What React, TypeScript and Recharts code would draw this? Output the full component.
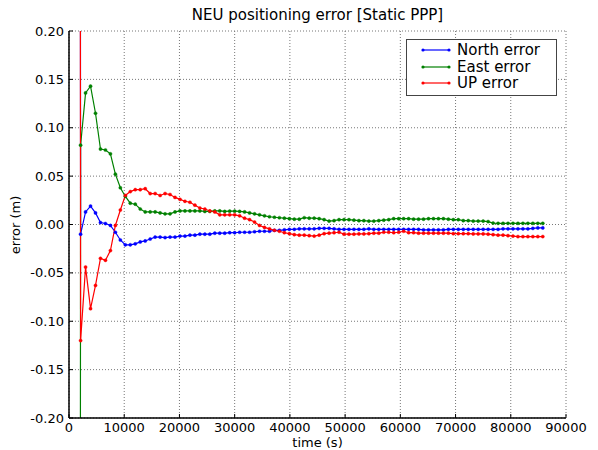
import { LineChart, Line, XAxis, YAxis, CartesianGrid, Legend } from 'recharts';

// sample times (s); first epoch is off-scale (convergence start)
const TIME = [
  1500,
  2100, 3000, 3900, 4800, 5700, 6600, 7500, 8400, 9300, 10200,
  11100, 12000, 12900, 13800, 14700, 15600, 16500, 17400, 18300, 19200,
  20100, 21000, 21900, 22800, 23700, 24600, 25500, 26400, 27300, 28200,
  29100, 30000, 30900, 31800, 32700, 33600, 34500, 35400, 36300, 37200,
  38100, 39000, 39900, 40800, 41700, 42600, 43500, 44400, 45300, 46200,
  47100, 48000, 48900, 49800, 50700, 51600, 52500, 53400, 54300, 55200,
  56100, 57000, 57900, 58800, 59700, 60600, 61500, 62400, 63300, 64200,
  65100, 66000, 66900, 67800, 68700, 69600, 70500, 71400, 72300, 73200,
  74100, 75000, 75900, 76800, 77700, 78600, 79500, 80400, 81300, 82200,
  83100, 84000, 84900, 85800,
];

const NORTH = [
  5,
  -0.010, 0.013, 0.019, 0.012, 0.002, 0.001, -0.001, -0.008, -0.016, -0.021,
  -0.021, -0.020, -0.018, -0.017, -0.015, -0.013, -0.013, -0.0135, -0.013, -0.013,
  -0.012, -0.012, -0.011, -0.011, -0.010, -0.010, -0.010, -0.009, -0.009, -0.009,
  -0.0085, -0.0085, -0.008, -0.008, -0.008, -0.0075, -0.007, -0.007, -0.007, -0.006,
  -0.006, -0.0055, -0.005, -0.005, -0.0045, -0.0045, -0.0045, -0.0045, -0.004, -0.004,
  -0.004, -0.0045, -0.005, -0.005, -0.005, -0.005, -0.005, -0.005, -0.0045, -0.005,
  -0.005, -0.005, -0.005, -0.005, -0.005, -0.005, -0.005, -0.005, -0.005, -0.0055,
  -0.0055, -0.0055, -0.0055, -0.0055, -0.005, -0.005, -0.005, -0.005, -0.005, -0.005,
  -0.005, -0.005, -0.005, -0.005, -0.005, -0.0045, -0.0045, -0.0045, -0.0045, -0.0045,
  -0.0045, -0.004, -0.0035, -0.0035,
];

const EAST = [
  -5,
  0.082, 0.136, 0.143, 0.115, 0.078, 0.077, 0.073, 0.052, 0.038, 0.029,
  0.022, 0.021, 0.016, 0.013, 0.013, 0.013, 0.012, 0.011, 0.011, 0.013,
  0.014, 0.014, 0.014, 0.014, 0.014, 0.0135, 0.0135, 0.014, 0.014, 0.0135,
  0.0138, 0.0138, 0.0135, 0.013, 0.012, 0.011, 0.010, 0.009, 0.008, 0.0075,
  0.007, 0.0065, 0.006, 0.0055, 0.0055, 0.007, 0.0065, 0.0065, 0.006, 0.005,
  0.0035, 0.004, 0.005, 0.005, 0.005, 0.0045, 0.004, 0.004, 0.0035, 0.0035,
  0.004, 0.0045, 0.005, 0.006, 0.006, 0.006, 0.006, 0.0055, 0.0055, 0.0055,
  0.006, 0.006, 0.006, 0.006, 0.0055, 0.005, 0.005, 0.004, 0.004, 0.0035,
  0.0035, 0.0035, 0.003, 0.0015, 0.0012, 0.0012, 0.0012, 0.0012, 0.0012, 0.0012,
  0.0012, 0.0012, 0.0012, 0.0012,
];

const UP = [
  5,
  -0.120, -0.044, -0.087, -0.063, -0.035, -0.037, -0.027, -0.001, 0.015, 0.030,
  0.034, 0.036, 0.036, 0.037, 0.032, 0.032, 0.030, 0.032, 0.031, 0.028,
  0.026, 0.024, 0.023, 0.020, 0.017, 0.016, 0.014, 0.013, 0.010, 0.010,
  0.010, 0.010, 0.009, 0.0065, 0.005, 0.0025, -0.001, -0.003, -0.0045, -0.006,
  -0.007, -0.0085, -0.0095, -0.0105, -0.011, -0.011, -0.0115, -0.012, -0.011, -0.0095,
  -0.009, -0.0085, -0.008, -0.010, -0.010, -0.010, -0.0097, -0.0097, -0.0095, -0.009,
  -0.009, -0.008, -0.008, -0.0085, -0.008, -0.007, -0.0085, -0.0085, -0.009, -0.009,
  -0.009, -0.009, -0.009, -0.009, -0.009, -0.0095, -0.0095, -0.0095, -0.0095, -0.0097,
  -0.0097, -0.0097, -0.010, -0.0105, -0.011, -0.011, -0.0115, -0.012, -0.0125, -0.0125,
  -0.0125, -0.0125, -0.0125, -0.0125,
];

const X_TICKS = [0, 10000, 20000, 30000, 40000, 50000, 60000, 70000, 80000, 90000];
const Y_TICKS = [-0.2, -0.15, -0.1, -0.05, 0, 0.05, 0.1, 0.15, 0.2];

const SERIES = [
  { key: 'north', name: 'North error', color: '#0000ff' },
  { key: 'east', name: 'East error', color: '#008000' },
  { key: 'up', name: 'UP error', color: '#ff0000' },
];

const data = TIME.map((t, i) => ({ t, north: NORTH[i], east: EAST[i], up: UP[i] }));

const FONT = '"DejaVu Sans", Verdana, sans-serif';
const tickStyle = { fill: '#000', fontSize: 13, fontFamily: FONT };
const blank = () => '';

const renderLegend = () => (
  <div
    style={{
      width: 149,
      height: 53,
      border: '1px solid #444',
      background: '#fff',
      fontFamily: FONT,
      fontSize: 15,
      color: '#000',
      boxSizing: 'content-box',
      paddingTop: 2,
    }}
  >
    {SERIES.map((s) => (
      <div key={s.key} style={{ display: 'flex', alignItems: 'center', height: 16.5, lineHeight: '16.5px' }}>
        <svg width={50} height={10} style={{ flex: 'none' }}>
          <line x1={16} y1={5} x2={42} y2={5} stroke={s.color} strokeWidth={1.2} />
          <circle cx={16} cy={5} r={1.6} fill={s.color} />
          <circle cx={42} cy={5} r={1.6} fill={s.color} />
        </svg>
        <span>{s.name}</span>
      </div>
    ))}
  </div>
);

export default function App() {
  return (
    <div style={{ position: 'absolute', left: 0, top: 0, width: 598, height: 450, background: '#fff', fontFamily: FONT }}>
      <div
        style={{
          position: 'absolute',
          left: 69,
          width: 497,
          top: 6,
          textAlign: 'center',
          fontSize: 15,
          lineHeight: '18px',
          color: '#000',
        }}
      >
        NEU positioning error [Static PPP]
      </div>
      <div
        style={{
          position: 'absolute',
          left: 15,
          top: 225,
          transform: 'translate(-50%, -50%) rotate(-90deg)',
          whiteSpace: 'nowrap',
          fontSize: 13,
          color: '#000',
        }}
      >
        error (m)
      </div>
      <LineChart width={598} height={450} data={data} margin={{ top: 31, right: 32, bottom: 2, left: 29 }}>
        <CartesianGrid stroke="#777" strokeDasharray="1 2" />
        <XAxis
          dataKey="t"
          type="number"
          domain={[0, 90000]}
          ticks={X_TICKS}
          interval={0}
          height={30}
          tickSize={-4}
          tickMargin={9}
          tick={tickStyle}
          stroke="#000"
          axisLine={{ stroke: '#000', strokeWidth: 1.5 }}
          tickLine={{ stroke: '#000' }}
          label={{ value: 'time (s)', position: 'insideBottom', offset: 1, fill: '#000', fontSize: 13, fontFamily: FONT }}
        />
        <XAxis
          xAxisId="top"
          orientation="top"
          type="number"
          domain={[0, 90000]}
          ticks={X_TICKS}
          interval={0}
          height={0}
          tickSize={-4}
          tickFormatter={blank}
          axisLine={{ stroke: '#000', strokeWidth: 1.5 }}
          tickLine={{ stroke: '#000' }}
        />
        <YAxis
          type="number"
          domain={[-0.2, 0.2]}
          ticks={Y_TICKS}
          interval={0}
          allowDataOverflow
          width={40}
          tickSize={-4}
          tickMargin={9}
          tick={tickStyle}
          tickFormatter={(v: number) => v.toFixed(2)}
          axisLine={{ stroke: '#000', strokeWidth: 1.5 }}
          tickLine={{ stroke: '#000' }}
        />
        <YAxis
          yAxisId="right"
          orientation="right"
          type="number"
          domain={[-0.2, 0.2]}
          ticks={Y_TICKS}
          interval={0}
          allowDataOverflow
          width={0}
          tickSize={-4}
          tickFormatter={blank}
          axisLine={{ stroke: '#000', strokeWidth: 1.5 }}
          tickLine={{ stroke: '#000' }}
        />
        {SERIES.map((s) => (
          <Line
            key={s.key}
            type="linear"
            dataKey={s.key}
            name={s.name}
            stroke={s.color}
            strokeWidth={1.2}
            dot={{ r: 1.6, fill: s.color, stroke: s.color, strokeWidth: 0.4 }}
            activeDot={false}
            isAnimationActive={false}
          />
        ))}
        <Legend
          layout="horizontal"
          verticalAlign="middle"
          align="center"
          content={renderLegend}
          wrapperStyle={{ left: 406, top: 39, width: 'auto', height: 'auto' }}
        />
      </LineChart>
    </div>
  );
}
